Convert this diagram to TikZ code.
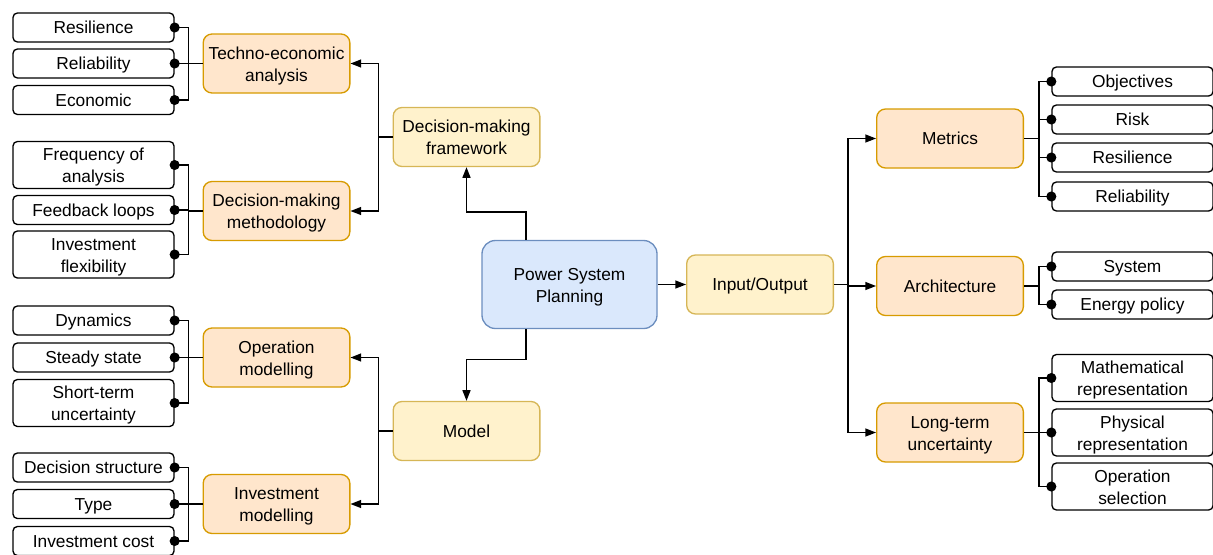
\documentclass[tikz,border=0pt]{standalone}
\usepackage{fontspec}
\setmainfont{Liberation Sans}
\usetikzlibrary{arrows.meta}
\definecolor{orfill}{HTML}{FFE6CC}
\definecolor{orline}{HTML}{D79B00}
\definecolor{yefill}{HTML}{FFF2CC}
\definecolor{yeline}{HTML}{D6B656}
\definecolor{blfill}{HTML}{DAE8FC}
\definecolor{blline}{HTML}{6C8EBF}
% line box of a text line, so that labels sit centred like HTML text
\newcommand\linestrut{\rule[-0.2535em]{0pt}{1.2em}}
% box of a two-line label, measured from the last baseline
\newcommand\tallstrut{\rule[-0.2535em]{0pt}{2.53em}}
\begin{document}
\begin{tikzpicture}[x=0.75pt,y=-0.75pt,
  box/.style={draw, line width=1pt, align=center, inner sep=0pt,
    font=\fontsize{13}{16.3}\selectfont,
    execute at begin node=\linestrut, execute at end node=\linestrut},
  two/.style={execute at begin node=\tallstrut},
  leaf/.style={box, fill=white, rounded corners=3.3pt,
    minimum width=120.75pt, minimum height=21.75pt},
  tallleaf/.style={leaf, two, minimum height=35.25pt},
  topic/.style={box, draw=orline, fill=orfill, rounded corners=6.6pt,
    minimum width=110pt, minimum height=44.25pt},
  branch/.style={box, draw=yeline, fill=yefill, rounded corners=6.6pt,
    minimum width=110pt, minimum height=44.25pt},
  root/.style={box, two, draw=blline, fill=blfill, rounded corners=10pt,
    minimum width=131.25pt, minimum height=66pt},
  arr/.style={draw, line width=1pt, -{Triangle[length=8pt,width=6pt]}},
  dotline/.style={draw, line width=1pt, -{Circle[length=7.5pt]}, shorten >=-3.75pt}]
\useasboundingbox (0,0) rectangle (1213,554);
\clip (0,0) rectangle (1213,554);

% centre
\node[root] (psp) at (569.5,284.5) {Power System\\Planning};
\node[branch, two] (dmf) at (466.5,137) {Decision-making\\framework};
\node[branch] (model) at (466.5,431) {Model};
\node[branch] (io) at (760,284.5) {Input/Output};

% left topics
\node[topic, two] (tea) at (276.5,63.5) {Techno-economic\\analysis};
\node[topic, two] (dmm) at (276.5,211) {Decision-making\\methodology};
\node[topic, two] (opm) at (276.5,357.5) {Operation\\modelling};
\node[topic, two] (inm) at (276.5,504) {Investment\\modelling};

% right topics
\node[topic] (met) at (950,138.5) {Metrics};
\node[topic] (arc) at (950,286) {Architecture};
\node[topic, two] (ltu) at (950,432.5) {Long-term\\uncertainty};

% left leaves
\node[leaf] (l1) at (93.5,27.5) {Resilience};
\node[leaf] (l2) at (93.5,63.5) {Reliability};
\node[leaf] (l3) at (93.5,100) {Economic};
\node[tallleaf] (l4) at (93.5,165) {Frequency of\\analysis};
\node[leaf] (l5) at (93.5,210) {Feedback loops};
\node[tallleaf] (l6) at (93.5,254.5) {Investment\\flexibility};
\node[leaf] (l7) at (93.5,320.5) {Dynamics};
\node[leaf] (l8) at (93.5,357.5) {Steady state};
\node[tallleaf] (l9) at (93.5,403) {Short-term\\uncertainty};
\node[leaf] (l10) at (93.5,467.5) {Decision structure};
\node[leaf] (l11) at (93.5,504) {Type};
\node[leaf] (l12) at (93.5,541) {Investment cost};

% right leaves
\node[leaf] (r1) at (1132.5,81.5) {Objectives};
\node[leaf] (r2) at (1132.5,119.5) {Risk};
\node[leaf] (r3) at (1132.5,157.5) {Resilience};
\node[leaf] (r4) at (1132.5,196.5) {Reliability};
\node[leaf] (r5) at (1132.5,266.5) {System};
\node[leaf] (r6) at (1132.5,304.5) {Energy policy};
\node[tallleaf] (r7) at (1132.5,378) {Mathematical\\representation};
\node[tallleaf] (r8) at (1132.5,432.5) {Physical\\representation};
\node[tallleaf] (r9) at (1132.5,486.5) {Operation\\selection};

% root connectors
\draw[arr] ([xshift=-32.6pt]psp.north) -- ++(0,-28) -| (dmf.south);
\draw[arr] ([xshift=-32.6pt]psp.south) -- ++(0,30) -| (model.north);
\draw[arr] (psp.east) -- (io.west);

% branch connectors
\draw[arr] (dmf.west) -- ++(-14,0) |- (tea.east);
\draw[arr] (dmf.west) -- ++(-14,0) |- (dmm.east);
\draw[arr] (model.west) -- ++(-14,0) |- (opm.east);
\draw[arr] (model.west) -- ++(-14,0) |- (inm.east);
\draw[arr] (io.east) -- ++(14,0) |- (met.west);
\draw[arr] (io.east) -- ++(14,0) |- (arc.west);
\draw[arr] (io.east) -- ++(14,0) |- (ltu.west);

% leaf connectors, left side
\foreach \t/\a/\b/\c in {tea/l1/l2/l3, dmm/l4/l5/l6, opm/l7/l8/l9, inm/l10/l11/l12}{
  \draw[dotline] (\t.west) -- ++(-14,0) |- (\a.east);
  \draw[dotline] (\t.west) -- ++(-14,0) |- (\b.east);
  \draw[dotline] (\t.west) -- ++(-14,0) |- (\c.east);
}

% leaf connectors, right side
\foreach \l in {r1,r2,r3,r4}{\draw[dotline] (met.east) -- ++(15,0) |- (\l.west);}
\foreach \l in {r5,r6}{\draw[dotline] (arc.east) -- ++(15,0) |- (\l.west);}
\foreach \l in {r7,r8,r9}{\draw[dotline] (ltu.east) -- ++(15,0) |- (\l.west);}
\end{tikzpicture}
\end{document}
